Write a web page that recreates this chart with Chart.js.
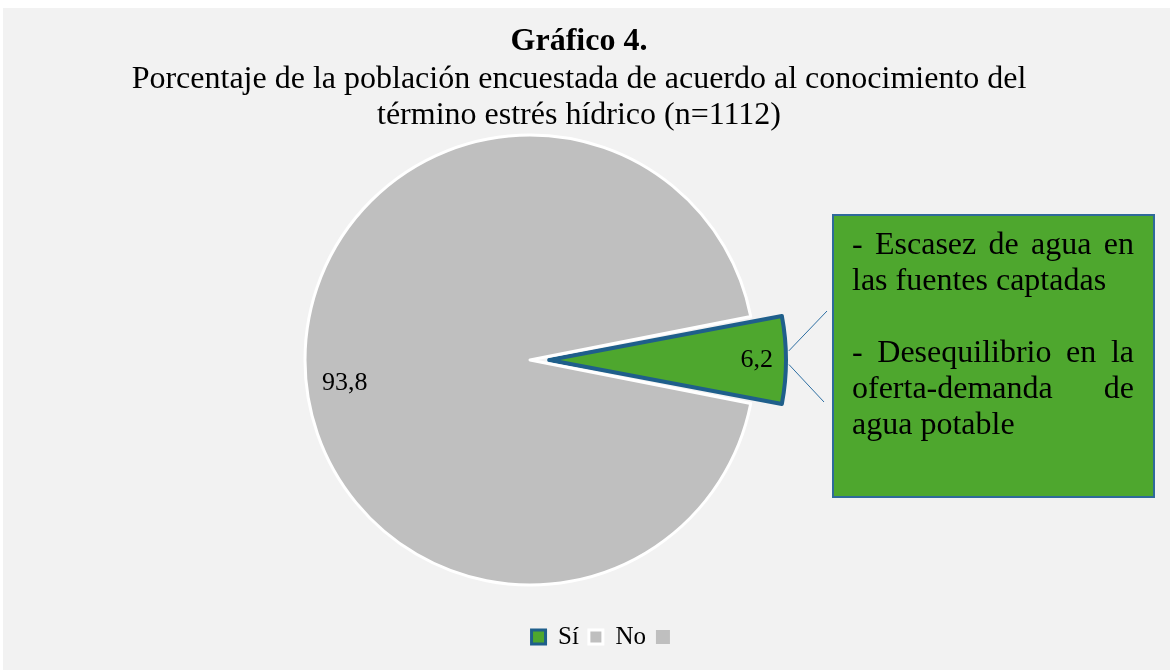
<!DOCTYPE html>
<html lang="es">
<head>
<meta charset="utf-8">
<title>Gráfico 4</title>
<script src="https://cdn.jsdelivr.net/npm/chart.js@4.4.1/dist/chart.umd.min.js"></script>
<style>
  html, body { margin: 0; padding: 0; background: #fff; }
  .frame { width: 1170px; height: 670px; }
</style>
</head>
<body>
<div class="frame"><canvas id="estresChart" width="1170" height="670"></canvas></div>
<script>
// data
const categories = ['Sí', 'No'];
const percentages = [6.2, 93.8];
const titleText = 'Gráfico 4.';
const subtitleLines = [
    'Porcentaje de la población encuestada de acuerdo al conocimiento del',
    'término estrés hídrico (n=1112)',
];
const calloutParagraphs = [
    ['- Escasez de agua en', 'las fuentes captadas'],
    ['- Desequilibrio en la', 'oferta-demanda de', 'agua potable'],
];

const SERIF = "'Liberation Serif', 'Times New Roman', serif";
const GREEN = '#4EA72E';
const BLUE = '#1F5F8B';
const GREY = '#BFBFBF';
const PIE_CENTER = { x: 530, y: 360 };
const PIE_RADIUS = 225;
const EXPLODE = 31; // px the "Sí" slice is pulled out

const total = percentages.reduce((a, b) => a + b, 0);
const fmt = (v) => v.toFixed(1).replace('.', ',');

// Chart.js moves an arc by offset/4 * (2 - sin(circumference)); invert that
const siSweep = (percentages[0] / total) * 2 * Math.PI;
const offsetFactor = (2 - Math.sin(Math.min(Math.PI, siSweep))) / 4;
const siOffset = EXPLODE / offsetFactor;

function arcShift(arc) {
    const { circumference } = arc.getProps(['circumference'], true);
    const off = (arc.options.offset || 0) / 4;
    return off * (2 - Math.sin(Math.min(Math.PI, circumference)));
}

// keep the pie where the original sits, independent of the title/legend boxes
const pieCenter = {
    id: 'pieCenter',
    afterLayout(chart) {
        const half = PIE_RADIUS + 40;
        chart.chartArea = {
            left: PIE_CENTER.x - half, right: PIE_CENTER.x + half,
            top: PIE_CENTER.y - half, bottom: PIE_CENTER.y + half,
            width: half * 2, height: half * 2,
        };
        chart.boxes.forEach((b) => {
            if (b.position === 'top') { b.left -= 6; b.right -= 6; }
            if (b === chart.legend) { b.left += 22; b.right += 22; }
        });
    },
};

const background = {
    id: 'background',
    beforeDraw(chart) {
        const { ctx, width, height } = chart;
        ctx.save();
        ctx.fillStyle = '#FFFFFF';
        ctx.fillRect(0, 0, width, height);
        ctx.fillStyle = '#F2F2F2';
        ctx.fillRect(3, 8, width - 3, height - 8);
        ctx.restore();
    },
};

const labelRadius = [0.87, 0.83];
const labelShift = [0, -7 * Math.PI / 180];
const valueLabels = {
    id: 'valueLabels',
    afterDatasetsDraw(chart) {
        const ctx = chart.ctx;
        ctx.save();
        ctx.font = `26px ${SERIF}`;
        ctx.fillStyle = '#000';
        ctx.textAlign = 'center';
        ctx.textBaseline = 'middle';
        chart.getDatasetMeta(0).data.forEach((arc, i) => {
            const { x, y, startAngle, endAngle, outerRadius } = arc.getProps(['x', 'y', 'startAngle', 'endAngle', 'outerRadius'], true);
            const mid = (startAngle + endAngle) / 2;
            const shift = arcShift(arc);
            const ox = x + shift * Math.cos(mid);
            const oy = y + shift * Math.sin(mid);
            const a = mid + labelShift[i];
            const r = outerRadius * labelRadius[i];
            ctx.fillText(fmt(percentages[i]), ox + r * Math.cos(a), oy + r * Math.sin(a));
        });
        ctx.restore();
    },
};

function drawJustified(ctx, text, x, y, width, justify) {
    const words = text.split(' ');
    if (!justify || words.length < 2) {
        ctx.fillText(text, x, y);
        return;
    }
    const used = words.reduce((s, w) => s + ctx.measureText(w).width, 0);
    const gap = (width - used) / (words.length - 1);
    let cx = x;
    words.forEach((w) => {
        ctx.fillText(w, cx, y);
        cx += ctx.measureText(w).width + gap;
    });
}

const callout = {
    id: 'callout',
    afterDraw(chart) {
        const ctx = chart.ctx;
        const arc = chart.getDatasetMeta(0).data[0];
        const { x, y, startAngle, endAngle, outerRadius } = arc.getProps(['x', 'y', 'startAngle', 'endAngle', 'outerRadius'], true);
        const mid = (startAngle + endAngle) / 2;
        const shift = arcShift(arc);
        const ox = x + shift * Math.cos(mid);
        const oy = y + shift * Math.sin(mid);
        const box = { left: 833, top: 215, right: 1154, bottom: 497 };
        const ends = [[827, 311, -0.04], [824, 402, 0.02]];

        ctx.save();
        ctx.strokeStyle = '#2E6FA3';
        ctx.lineWidth = 1;
        ends.forEach(([ex, ey, da]) => {
            const a = mid + da;
            ctx.beginPath();
            ctx.moveTo(ox + (outerRadius + 3) * Math.cos(a), oy + (outerRadius + 3) * Math.sin(a));
            ctx.lineTo(ex, ey);
            ctx.stroke();
        });

        ctx.fillStyle = GREEN;
        ctx.fillRect(box.left, box.top, box.right - box.left, box.bottom - box.top);
        ctx.strokeStyle = '#2F6A9A';
        ctx.lineWidth = 2;
        ctx.strokeRect(box.left, box.top, box.right - box.left, box.bottom - box.top);

        ctx.fillStyle = '#000';
        ctx.font = `32px ${SERIF}`;
        ctx.textAlign = 'left';
        ctx.textBaseline = 'alphabetic';
        const textLeft = 852;
        const textWidth = 1134 - textLeft;
        let baseline = 254;
        calloutParagraphs.forEach((lines) => {
            lines.forEach((line, i) => {
                drawJustified(ctx, line, textLeft, baseline, textWidth, i < lines.length - 1);
                baseline += 36;
            });
            baseline += 36;
        });
        ctx.restore();
    },
};

new Chart(document.getElementById('estresChart'), {
    type: 'pie',
    data: {
        labels: categories,
        datasets: [{
            data: percentages,
            backgroundColor: [GREEN, GREY],
            borderColor: [BLUE, '#FFFFFF'],
            borderWidth: [4, 3],
            borderJoinStyle: 'round',
            offset: [siOffset, 0],
        }],
    },
    options: {
        responsive: false,
        animation: false,
        events: [],
        radius: PIE_RADIUS,
        rotation: 90 - (percentages[0] / total) * 180,
        layout: { padding: { top: 0, left: 0, right: 0, bottom: 10.5 } },
        plugins: {
            title: {
                display: true,
                text: titleText,
                color: '#000',
                font: { family: SERIF, size: 32, weight: 'bold', lineHeight: 1.125 },
                padding: { top: 24, bottom: 2 },
            },
            subtitle: {
                display: true,
                text: subtitleLines,
                color: '#000',
                font: { family: SERIF, size: 32, weight: 'normal', lineHeight: 1.125 },
                padding: { top: 0, bottom: 0 },
            },
            legend: {
                position: 'bottom',
                labels: {
                    boxWidth: 14,
                    boxHeight: 14,
                    padding: 10,
                    color: '#000',
                    font: { family: SERIF, size: 25 },
                    generateLabels: () => [
                        { text: categories[0], fillStyle: GREEN, strokeStyle: BLUE, lineWidth: 3, fontColor: '#000', hidden: false, index: 0 },
                        { text: categories[1], fillStyle: GREY, strokeStyle: '#FFFFFF', lineWidth: 3, fontColor: '#000', hidden: false, index: 1 },
                        { text: '', fillStyle: GREY, strokeStyle: GREY, lineWidth: 0, fontColor: '#000', hidden: false, index: 2 },
                    ],
                },
            },
            tooltip: { enabled: false },
        },
    },
    plugins: [background, pieCenter, valueLabels, callout],
});
</script>
</body>
</html>
